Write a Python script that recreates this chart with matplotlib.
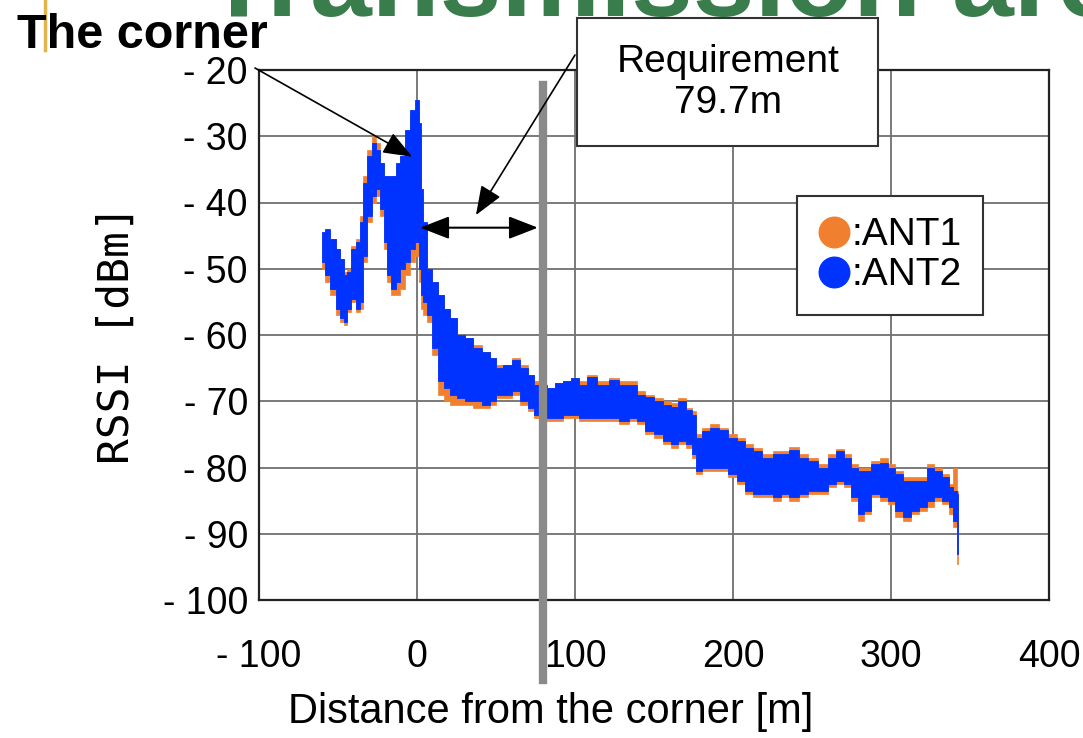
import matplotlib
matplotlib.use("Agg")
import matplotlib.pyplot as plt
from matplotlib.lines import Line2D
from matplotlib.patches import Rectangle

# =========================
# DATA
# =========================
dist = [-60, -57, -53, -50, -47, -45, -43, -40, -37, -35, -33, -30, -27, -25, -22,
        -20, -18, -15, -12, -9, -6, -3, 0, 2, 3, 5, 8, 11, 15, 19,
        23, 28, 33, 38, 44, 48, 52, 57, 63, 68, 72, 76, 80, 85, 90,
        95, 100, 105, 110, 118, 125, 131, 137, 142, 147, 153, 158, 163, 168, 173,
        175, 178, 183, 188, 194, 200, 205, 210, 215, 222, 228, 233, 238, 245, 250,
        257, 263, 268, 272, 277, 281, 285, 290, 296, 300, 305, 310, 315, 320, 325,
        330, 335, 338, 341, 342.5]

# ANT2 (blue) lower / upper edge of the cloud
ant2_low = [-49, -51, -53, -56, -57.5, -58, -56, -54.5, -56, -55, -48, -42, -39, -38, -41,
            -46, -51, -53, -52, -50, -49, -47, -46, -50, -54, -55, -57, -62, -67, -68,
            -69, -69.5, -70, -70, -70.5, -70, -69, -69, -68.5, -70, -71, -72, -72.5, -72.5, -72.5,
            -72, -72, -72.5, -72.5, -72.5, -72.5, -73, -72.5, -73, -74.5, -75, -76, -76.5, -76, -76.5,
            -78, -80.5, -80, -80, -80, -81, -82, -83.5, -84, -84, -84.5, -84, -84.5, -84, -83.5,
            -83.5, -82.5, -82, -82.5, -84.5, -87, -86.5, -84, -84.5, -85, -86.5, -87.5, -86.5, -86, -85,
            -84.5, -85, -86, -88, -93]
ant2_high = [-44.5, -44, -45.5, -47, -48.5, -51, -50.5, -47, -46, -43, -37, -33, -31, -32, -34,
             -36, -36, -36, -34, -33, -29, -26, -24.5, -28, -38, -43, -50, -52, -54, -56,
             -57.5, -60, -60.5, -62, -62.5, -63.5, -65, -64.5, -63.8, -65, -66, -67.5, -67.5, -68, -67.3,
             -67, -66.5, -67.5, -66.3, -67.5, -66.8, -67.5, -67.5, -69, -69.3, -70, -70.5, -70.8, -70, -71.3,
             -72, -75.5, -74.5, -74, -74.3, -75.5, -76, -77, -77.5, -78.5, -78, -78, -77.4, -78.5, -79,
             -80, -78.5, -77.5, -78.5, -80, -80.5, -80.5, -79.5, -79.3, -80, -81, -82, -82, -82, -80,
             -80.5, -81.5, -83, -83.5, -84]

# ANT1 (orange) lower / upper edge, mostly hidden behind ANT2
ant1_low = [-50, -52, -54, -57, -58, -58.5, -56.5, -55, -56.5, -56, -49, -43, -40, -39, -42,
            -47, -52, -54, -54, -53, -51, -49, -48, -52, -56, -57, -58, -63, -69, -70,
            -70.5, -70.5, -70.5, -71, -71, -70.5, -69.5, -69.5, -69, -70.5, -71.5, -72.5, -73, -73, -73,
            -72.5, -72.5, -73, -73, -73, -73, -73.5, -73, -73.5, -75, -75.5, -76.5, -77, -76.5, -77,
            -78.5, -81, -80.5, -80.5, -80.5, -81.5, -82.5, -84, -84.5, -84.5, -85, -84.5, -85, -84.5, -84,
            -84, -83, -82.5, -83, -85, -88, -87, -84.5, -85, -85.5, -87.5, -88, -87, -86.5, -86,
            -85, -85.5, -87, -89, -94.5]
ant1_high = [-45, -44.5, -45.5, -47, -48.5, -50.5, -50, -46.5, -45.5, -42, -36, -32, -30, -31, -34,
             -36, -36.5, -36, -34.5, -33, -30, -27, -26, -29, -39, -44, -50, -52, -54, -56,
             -57.5, -60, -60.5, -61.5, -62.5, -63.5, -64.5, -64.5, -63.5, -64.5, -66, -67, -67.5, -68, -67.3,
             -67, -66.5, -67, -66, -67, -66.5, -67, -67, -68.5, -69, -69.5, -70, -70.3, -69.5, -71,
             -71.5, -75, -74, -73.5, -74, -75, -75.5, -76.5, -77, -78, -77.5, -77.5, -76.9, -78, -78.5,
             -79.5, -78, -77.2, -78, -79.5, -80, -80, -79, -78.5, -79.5, -80.5, -81.5, -81.5, -81.5, -79.5,
             -80, -81, -82.5, -80, -83.5]

REQ_DIST = 79.7
x_ticks = [-100, 0, 100, 200, 300, 400]
y_ticks = [-100, -90, -80, -70, -60, -50, -40, -30, -20]

ORANGE = '#f08030'
BLUE = '#0033ff'
W, H = 1083, 738


def fpx(x, y):
    # picture pixels -> figure fraction
    return (x / W, 1 - y / H)


def tick_text(v):
    return f"- {abs(v)}" if v < 0 else str(v)


SANS = ['Liberation Sans', 'DejaVu Sans']

# =========================
# FIGURE
# =========================
fig = plt.figure(figsize=(W / 100, H / 100), dpi=100)
fig.patch.set_facecolor('white')
ax = fig.add_axes([259 / W, 1 - 600 / H, 790 / W, 530 / H])

ax.fill_between(dist, ant1_low, ant1_high, step='mid', color=ORANGE, lw=0.5, zorder=2)
ax.fill_between(dist, ant2_low, ant2_high, step='mid', color=BLUE, lw=0.6, zorder=3)

ax.set_xlim(-100, 400)
ax.set_ylim(-100, -20)
ax.set_xticks(x_ticks)
ax.set_yticks(y_ticks)
ax.set_xticklabels([tick_text(v) for v in x_ticks], family=SANS, fontsize=27)
ax.set_yticklabels([tick_text(v) for v in y_ticks], family=SANS, fontsize=27)
ax.tick_params(axis='both', length=0)
ax.tick_params(axis='x', pad=28)
ax.tick_params(axis='y', pad=8)
ax.grid(True, color='#707070', lw=1.3)
ax.set_axisbelow(True)
for s in ax.spines.values():
    s.set_color('#222222')
    s.set_linewidth(1.6)

ax.set_ylabel("RSSI [dBm]", family=['DejaVu Sans Mono'], fontsize=31, labelpad=18)
fig.text(*fpx(551, 712), "Distance from the corner [m]", family=SANS,
         fontsize=30, ha='center', va='center')

# requirement line
ax.axvline(REQ_DIST, ymin=-0.151, ymax=0.972, color='#8a8a8a', lw=6, clip_on=False, zorder=4)

# double arrow between corner and requirement
ax.annotate("", xy=(2, -43.8), xytext=(76.5, -43.8),
            arrowprops=dict(arrowstyle='<|-|>,head_length=0.9,head_width=0.35',
                            mutation_scale=20, lw=1.5, color='black', shrinkA=0, shrinkB=0),
            zorder=5)

# requirement box
fig.patches.append(Rectangle(fpx(577, 146), 301 / W, 128 / H, transform=fig.transFigure,
                             facecolor='white', edgecolor='#333333', lw=1.5, zorder=6))
fig.text(*fpx(728, 62), "Requirement", family=SANS, fontsize=28, ha='center', va='center', zorder=7)
fig.text(*fpx(728, 103), "79.7m", family=SANS, fontsize=28, ha='center', va='center', zorder=7)
ax.annotate("", xy=(37.3, -41.9), xycoords='data', xytext=fpx(575, 55), textcoords='figure fraction',
            arrowprops=dict(arrowstyle='-|>,head_length=0.9,head_width=0.35',
                            mutation_scale=20, lw=1.2, color='black', shrinkA=0, shrinkB=0),
            annotation_clip=False, zorder=5)

# the corner
fig.text(*fpx(17, 36), "The corner", family=SANS, weight='bold', fontsize=35,
         ha='left', va='center')
ax.annotate("", xy=(-3, -33.1), xycoords='data', xytext=fpx(255, 68), textcoords='figure fraction',
            arrowprops=dict(arrowstyle='-|>,head_length=0.9,head_width=0.35',
                            mutation_scale=20, lw=1.2, color='black', shrinkA=0, shrinkB=0),
            annotation_clip=False, zorder=5)

# slide decorations: cut title and yellow bar
fig.text(*fpx(205, 16), "Transmission area", color='#3a7d4c', weight='bold',
         family=SANS, fontsize=80, ha='left', va='baseline', zorder=0)
fig.add_artist(Line2D([45 / W, 45 / W], [1, 1 - 50 / H], color='#e2b44a', lw=2.5,
                      transform=fig.transFigure))

# legend
handles = [Line2D([], [], ls='none', marker='o', ms=22, color=ORANGE),
           Line2D([], [], ls='none', marker='o', ms=22, color=BLUE)]
leg = fig.legend(handles, [':ANT1', ':ANT2'], loc='upper left', bbox_to_anchor=fpx(797, 196),
                 frameon=True, fancybox=False, edgecolor='#333333', framealpha=1,
                 prop={'family': SANS, 'size': 28},
                 handlelength=0.8, handletextpad=0.05, labelspacing=0.1,
                 borderpad=0.55, borderaxespad=0)
leg.get_frame().set_linewidth(1.5)

fig.savefig("out.png", dpi=100)
